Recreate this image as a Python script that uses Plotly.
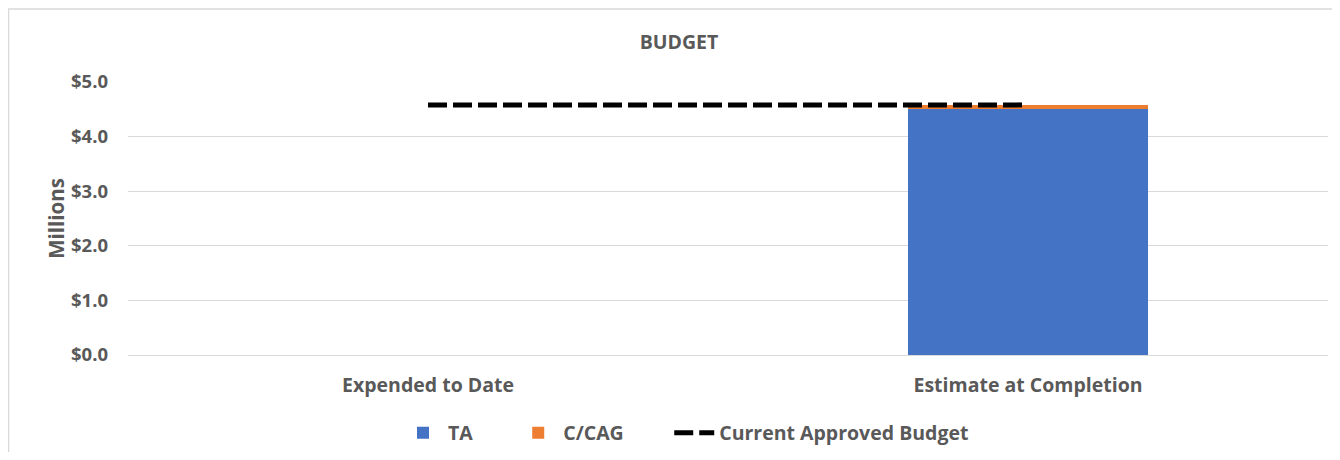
import plotly.graph_objects as go

categories = ["Expended to Date", "Estimate at Completion"]
ta_values = [0, 4.50]
ccag_values = [0, 0.08]
budget_values = [4.58, 4.58]
y_ticks = [0, 1, 2, 3, 4, 5]
y_tick_labels = ["$0.0", "$1.0", "$2.0", "$3.0", "$4.0", "$5.0"]
series_names = ["TA", "C/CAG", "Current Approved Budget"]

FONT = "Open Sans"
GRAY = "#595959"
NB = "\u00a0"

# page body has an 8px margin: figure is placed at (8, 8)
OFF = 8
W, H = 1340 - 2 * OFF, 460 - 2 * OFF
L = 128 - OFF
T = 82 - OFF
B = (H + OFF) - 355
R = (W + OFF) - 1328
ph = H - T - B
pw = W - L - R


def px_to_paper_x(px):
    return (px - OFF - L) / pw


def px_to_paper_y(py):
    return (H - B - (py - OFF)) / ph


fig = go.Figure()
fig.add_trace(go.Bar(x=categories, y=ta_values, name="<b>%s</b>%s" % (series_names[0], NB * 7),
                     marker_color="#4472C4", marker_line_width=0, width=0.4))
fig.add_trace(go.Bar(x=categories, y=ccag_values, name="<b>%s</b>%s" % (series_names[1], NB * 8),
                     marker_color="#ED7D31", marker_line_width=0, width=0.4))
fig.add_trace(go.Scatter(x=categories, y=budget_values, name="<b>%s</b>" % series_names[2],
                         mode="lines", line=dict(color="black", width=5, dash="19px,6px")))

fig.update_layout(
    width=W, height=H,
    margin=dict(l=L, r=R, t=T, b=B, autoexpand=False),
    barmode="stack",
    plot_bgcolor="white", paper_bgcolor="white",
    font=dict(family=FONT, color=GRAY, size=16),
    title=dict(text="<b>BUDGET</b>", x=px_to_paper_x(679), xref="paper", xanchor="center",
               y=1 - (42 - OFF) / H, yanchor="middle",
               font=dict(family=FONT, size=19.5, color=GRAY)),
    xaxis=dict(showgrid=False, showline=False, ticks="",
               ticklabelstandoff=16,
               tickfont=dict(family=FONT, size=19.5, color=GRAY),
               tickprefix="<b>", ticksuffix="</b>"),
    yaxis=dict(range=[0, 5], tickvals=y_ticks, ticktext=["<b>%s</b>" % t for t in y_tick_labels],
               showgrid=True, gridcolor="#D9D9D9", gridwidth=1, zeroline=True,
               zerolinecolor="#D9D9D9", zerolinewidth=1, showline=False, ticks="",
               ticklabelstandoff=19,
               tickfont=dict(family=FONT, size=18.5, color=GRAY),
               title=dict(text="<b>Millions</b>", font=dict(family=FONT, size=20.5, color=GRAY),
                          standoff=0)),
    legend=dict(orientation="h", xref="container", yref="container",
                x=(398 - OFF) / W, xanchor="left",
                y=1 - (433 - OFF) / H, yanchor="middle",
                font=dict(family=FONT, size=19.5, color=GRAY), itemwidth=40,
                traceorder="normal"),
    shapes=[
        dict(type="line", xref="paper", yref="paper",
             x0=px_to_paper_x(6), x1=px_to_paper_x(1340), y0=px_to_paper_y(9), y1=px_to_paper_y(9),
             line=dict(color="#D9D9D9", width=1.5)),
        dict(type="line", xref="paper", yref="paper",
             x0=px_to_paper_x(8.5), x1=px_to_paper_x(8.5), y0=px_to_paper_y(9), y1=px_to_paper_y(462),
             line=dict(color="#D9D9D9", width=1.5)),
    ],
)

fig.write_html("out.html")
